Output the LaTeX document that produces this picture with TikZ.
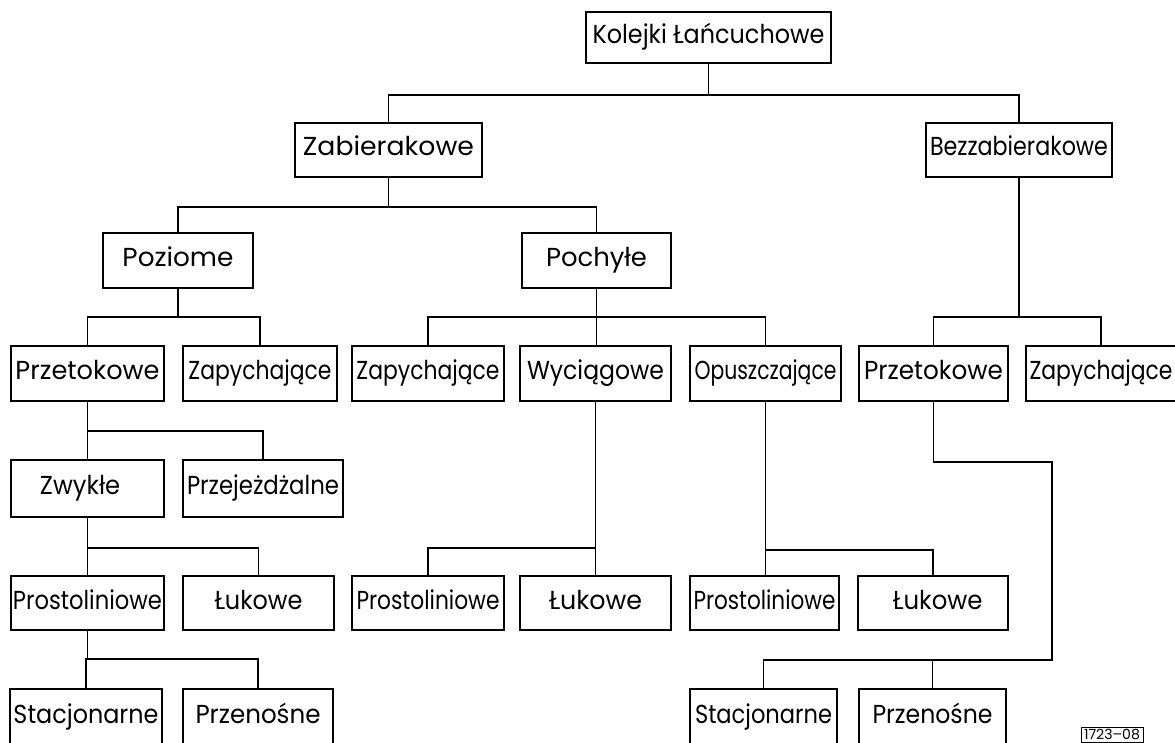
\documentclass[tikz,border=0pt]{standalone}
\usepackage{fontspec}
\usepackage{graphicx}
\setmainfont{Poppins}
\newcommand\tw[2]{\resizebox{#1pt}{\height}{#2}}
\newcommand\mybox[8][]{\node[box,#1,minimum width={#5-#3},minimum height={#6-#4}] (#2) at ({(#3+#5)/2},{(#4+#6)/2}) {\tw{#7}{#8}};}
\begin{document}
\begin{tikzpicture}[x=1pt,y=-1pt,
  box/.style={draw, line width=2.7pt, inner sep=0pt, outer sep=0pt, font=\fontsize{26}{30}\selectfont, text height=0.8em+4pt, text depth=0.252em-4pt},
  conn/.style={line width=1.6pt},
  tag/.style={line width=1pt, font=\fontsize{14}{15}\selectfont, text height=10pt, text depth=0pt}]
\useasboundingbox (0,0) rectangle (1175,743);
\fill[white] (0,0) rectangle (1175,743);
\clip (0,0) rectangle (1175,743);
% level 0-2
\mybox{kol}{586}{12}{831}{63}{232}{Kolejki Łańcuchowe}
\mybox{zab}{295}{123}{482}{177}{171}{Zabierakowe}
\mybox{bez}{926}{123}{1112}{177}{178}{Bezzabierakowe}
\mybox{poz}{103}{233}{253}{288}{111}{Poziome}
\mybox{poc}{522}{233}{671}{288}{101}{Pochyłe}
% row 3
\mybox{pzl}{11}{346}{164}{401}{144}{Przetokowe}
\mybox{zaa}{183}{346}{337}{401}{143}{Zapychające}
\mybox{zab2}{352}{346}{504}{401}{143}{Zapychające}
\mybox{wyc}{520}{346}{671}{401}{137}{Wyciągowe}
\mybox{opu}{690}{346}{841}{401}{142}{Opuszczające}
\mybox{pzr}{859}{346}{1008}{401}{139}{Przetokowe}
\mybox{zac}{1026}{346}{1176}{401}{143}{Zapychające}
% row 4
\mybox{zwy}{11}{460}{164}{517}{95}{Zwykłe\hspace*{16pt}}
\mybox{prz}{183}{460}{343}{517}{152}{Przejeżdżalne}
% row 5
\mybox{pra}{11}{576}{164}{630}{149}{Prostoliniowe}
\mybox{lua}{183}{576}{334}{630}{88}{Łukowe}
\mybox{prb}{352}{576}{504}{630}{143}{Prostoliniowe}
\mybox{lub}{520}{576}{671}{630}{93}{Łukowe}
\mybox{prc}{690}{576}{839}{630}{142}{Prostoliniowe}
\mybox{luc}{858}{576}{1008}{630}{99}{\hspace*{10pt}Łukowe}
% row 6
\mybox{sta}{10}{689}{162}{746}{145}{Stacjonarne}
\mybox{pna}{183}{689}{333}{746}{125}{Przenośne}
\mybox{stb}{690}{689}{837}{746}{137}{Stacjonarne}
\mybox{pnb}{859}{689}{1006}{746}{120}{Przenośne}
\mybox[tag]{lab}{1081}{727}{1143}{742}{56}{1723--08}
% connectors
\coordinate (b0) at (0,95);
\coordinate (b1) at (0,207);
\coordinate (b2) at (0,317);
\coordinate (b3) at (0,431);
\coordinate (b4) at (0,548);
\coordinate (b5) at (0,659);
\coordinate (b6) at (0,550);
\coordinate (k1) at (1052,462);
\coordinate (k2) at (1052,660);
\draw[conn] (kol.south) -- (kol.south |- b0) -| (zab.north);
\draw[conn] (kol.south |- b0) -| (bez.north);
\draw[conn] (zab.south) -- (zab.south |- b1) -| (poz.north);
\draw[conn] (zab.south |- b1) -| (poc.north);
\draw[conn] (bez.south) -- (bez.south |- b2) -| (pzr.north);
\draw[conn] (bez.south |- b2) -| (zac.north);
\draw[conn] (poz.south) -- (poz.south |- b2) -| (pzl.north);
\draw[conn] (poz.south |- b2) -| (zaa.north);
\draw[conn] (poc.south) -- (poc.south |- wyc.north);
\draw[conn] (poc.south |- b2) -| (zab2.north);
\draw[conn] (poc.south |- b2) -| (opu.north);
\draw[conn] (pzl.south) -- (pzl.south |- b3) -| (zwy.north);
\draw[conn] (pzl.south |- b3) -| (prz.north);
\draw[conn] (zwy.south) -- (zwy.south |- b4) -| (pra.north);
\draw[conn] (zwy.south |- b4) -| (lua.north);
\draw[conn] (pra.south) -- (pra.south |- b5) -| (sta.north);
\draw[conn] (pra.south |- b5) -| (pna.north);
\draw[conn] (wyc.south) -- (wyc.south |- lub.north);
\draw[conn] (wyc.south |- b4) -| (prb.north);
\draw[conn] (opu.south) -- (opu.south |- prc.north);
\draw[conn] (opu.south |- b6) -| (luc.north);
\draw[conn] (pzr.south) |- (k1) -- (k2) -| (stb.north);
\draw[conn] (k2) -| (pnb.north);
\end{tikzpicture}
\end{document}
